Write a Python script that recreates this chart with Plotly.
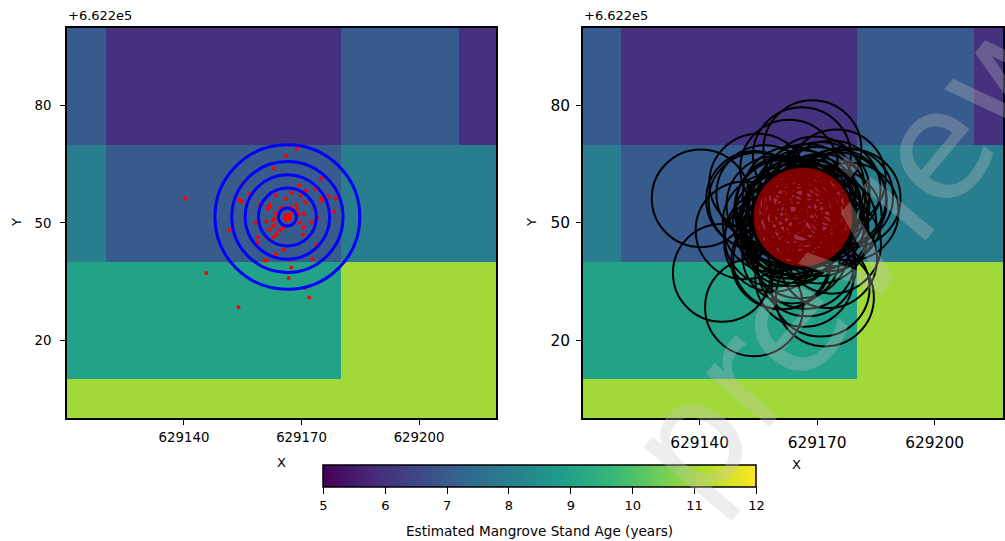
import plotly.graph_objects as go

X_EDGES = [629090, 629120, 629150, 629180, 629210, 629240]
Y_EDGES = [-20, 10, 40, 70, 100]
AGE = [
    [11, 11, 11, 11, 11],
    [9, 9, 9, 11, 11],
    [8, 7, 7, 8, 8],
    [7, 6, 6, 7, 6],
]
PX = [629168.8,629166.1,629162.9,629175.0,629155.0,629169.5,629170.9,629156.8,629167.4,629163.5,
      629169.8,629176.9,629178.8,629175.1,629175.3,629154.2,629154.8,629166.1,629170.9,629159.4,
      629161.9,629161.7,629161.4,629168.7,629164.6,629165.1,629167.4,629168.7,629178.3,629163.4,
      629169.2,629170.6,629167.5,629174.0,629163.1,629162.8,629158.4,629161.0,629169.6,629172.6,
      629163.1,629162.7,629170.6,629165.3,629161.9,629164.3,629151.5,629163.6,629170.4,629158.9,
      629162.9,629158.8,629173.8,629165.5,629163.4,629160.6,629161.1,629167.1,629172.8,629167.4,
      629166.7,629170.9,629172.0,629153.9,629145.7,629140.3,629173.7,
      629166.0,629166.5,629167.0,629165.8,629166.2,629166.7,629167.1,629166.0,
      629165.9,629166.3,629166.8,629166.6,629166.1,629166.4]
PY = [68.9,67.1,63.9,61.4,60.3,59.6,58.2,57.4,57.7,57.0,
      56.9,56.8,56.3,56.3,55.6,55.9,55.5,56.1,55.2,54.6,
      54.6,54.0,53.6,54.6,53.7,53.8,54.0,53.5,52.9,52.4,
      52.3,52.3,52.5,51.4,51.1,50.7,50.0,50.3,50.1,50.1,
      49.4,49.2,48.9,48.7,48.3,48.1,48.1,47.1,47.0,46.3,
      46.3,44.9,44.4,43.2,41.9,40.4,40.4,40.5,40.7,38.6,
      35.9,33.4,30.9,28.4,37.2,56.3,58.6,
      51.2,51.6,51.0,51.2,50.9,51.8,51.4,51.8,
      51.5,52.0,50.9,51.3,50.8,51.1]
CENTER = (629166.4, 51.5)
RINGS = [18.5, 14.2, 10.8, 7.4, 2.3]
BUFFER = 12.5
DISK = 12.6
XTICKS = [629140, 629170, 629200]
YTICKS = [20, 50, 80]
CB_TICKS = [5, 6, 7, 8, 9, 10, 11, 12]
W, H = 1005, 541
UNIT = 3.925
FONT = "DejaVu Sans"

fig = go.Figure()
for xa, ya in (("x", "y"), ("x2", "y2")):
    fig.add_trace(go.Heatmap(x=X_EDGES, y=Y_EDGES, z=AGE, coloraxis="coloraxis",
                             xaxis=xa, yaxis=ya, hoverinfo="skip"))
fig.add_trace(go.Scatter(x=PX, y=PY, mode="markers", xaxis="x", yaxis="y",
                         marker=dict(color="#ff0000", size=4, line=dict(width=0)), showlegend=False))

shapes = []
for r in RINGS:
    shapes.append(dict(type="circle", xref="x", yref="y", x0=CENTER[0]-r, x1=CENTER[0]+r,
                       y0=CENTER[1]-r, y1=CENTER[1]+r, line=dict(color="#0000ff", width=3), layer="above"))
for x, y in zip(PX, PY):
    shapes.append(dict(type="circle", xref="x2", yref="y2", x0=x-BUFFER, x1=x+BUFFER,
                       y0=y-BUFFER, y1=y+BUFFER, line=dict(color="#000000", width=2), layer="above"))
shapes.append(dict(type="circle", xref="x2", yref="y2", x0=CENTER[0]-DISK, x1=CENTER[0]+DISK,
                   y0=CENTER[1]-DISK, y1=CENTER[1]+DISK, line=dict(width=0),
                   fillcolor="rgba(255,0,0,0.5)", layer="above"))

def ax(dom, rng, vals, size, anchor, standoff):
    return dict(domain=dom, range=rng, tickmode="array", tickvals=vals, ticktext=[str(v) for v in vals],
                ticks="outside", ticklen=5, tickwidth=1.2, tickcolor="black", showgrid=False, zeroline=False,
                showline=True, linecolor="black", linewidth=1.5, mirror=True, anchor=anchor,
                ticklabelstandoff=standoff,
                tickfont=dict(family=FONT, size=size, color="black"), layer="above traces")

def px(x, y, text, size, **kw):
    return dict(xref="paper", yref="paper", x=x/W, y=1-y/H, text=text, showarrow=False,
                font=dict(family=FONT, size=size, color="black"), **kw)

ann = [
    px(66, 15, "+6.622e5", 13, xanchor="left", yanchor="middle"),
    px(583, 15, "+6.622e5", 13, xanchor="left", yanchor="middle"),
    px(282, 462, "X", 13, xanchor="center", yanchor="middle"),
    px(798, 464, "X", 13, xanchor="center", yanchor="middle"),
    px(16, 222, "Y", 13, xanchor="center", yanchor="middle", textangle=-90),
    px(532, 222, "Y", 13, xanchor="center", yanchor="middle", textangle=-90),
    px(540.5, 531, "Estimated Mangrove Stand Age (years)", 13.6, xanchor="center", yanchor="middle"),
    dict(xref="paper", yref="paper", x=852/W, y=1-248/H, text="preview", showarrow=False,
         textangle=-50, xanchor="center", yanchor="middle",
         font=dict(family=FONT, size=152, color="rgba(196,196,196,0.3)")),
]

fig.update_layout(
    width=W, height=H, margin=dict(l=0, r=0, t=0, b=0), paper_bgcolor="white", plot_bgcolor="white",
    showlegend=False, shapes=shapes, annotations=ann,
    xaxis=ax([67/W, 497/W], [629110.1, 629110.1+430/UNIT], XTICKS, 13.3, "y", 1),
    yaxis=ax([1-418.3/H, 1-27.5/H], [0, 100], YTICKS, 13.3, "x", 6),
    xaxis2=ax([584/W, 1], [629110.2, 629110.2+421/UNIT], XTICKS, 15.4, "y2", 4),
    yaxis2=ax([1-418.3/H, 1-27.5/H], [0, 100], YTICKS, 15.4, "x2", 3),
    coloraxis=dict(colorscale="Viridis", cmin=5, cmax=12, colorbar=dict(
        orientation="h", lenmode="pixels", len=433, thicknessmode="pixels", thickness=22,
        x=541/W, xanchor="center", y=1-465/H, yanchor="top", xpad=0, ypad=0,
        outlinewidth=1.5, outlinecolor="black", ticks="outside", ticklen=7, tickwidth=1.2, tickcolor="black",
        tickmode="array", tickvals=CB_TICKS, ticktext=[str(v) for v in CB_TICKS],
        tickfont=dict(family=FONT, size=13, color="black"))),
)
fig.write_html("out.html", config=dict(displayModeBar=False),
               post_script="document.body.style.margin='0';document.body.style.overflow='hidden';")
